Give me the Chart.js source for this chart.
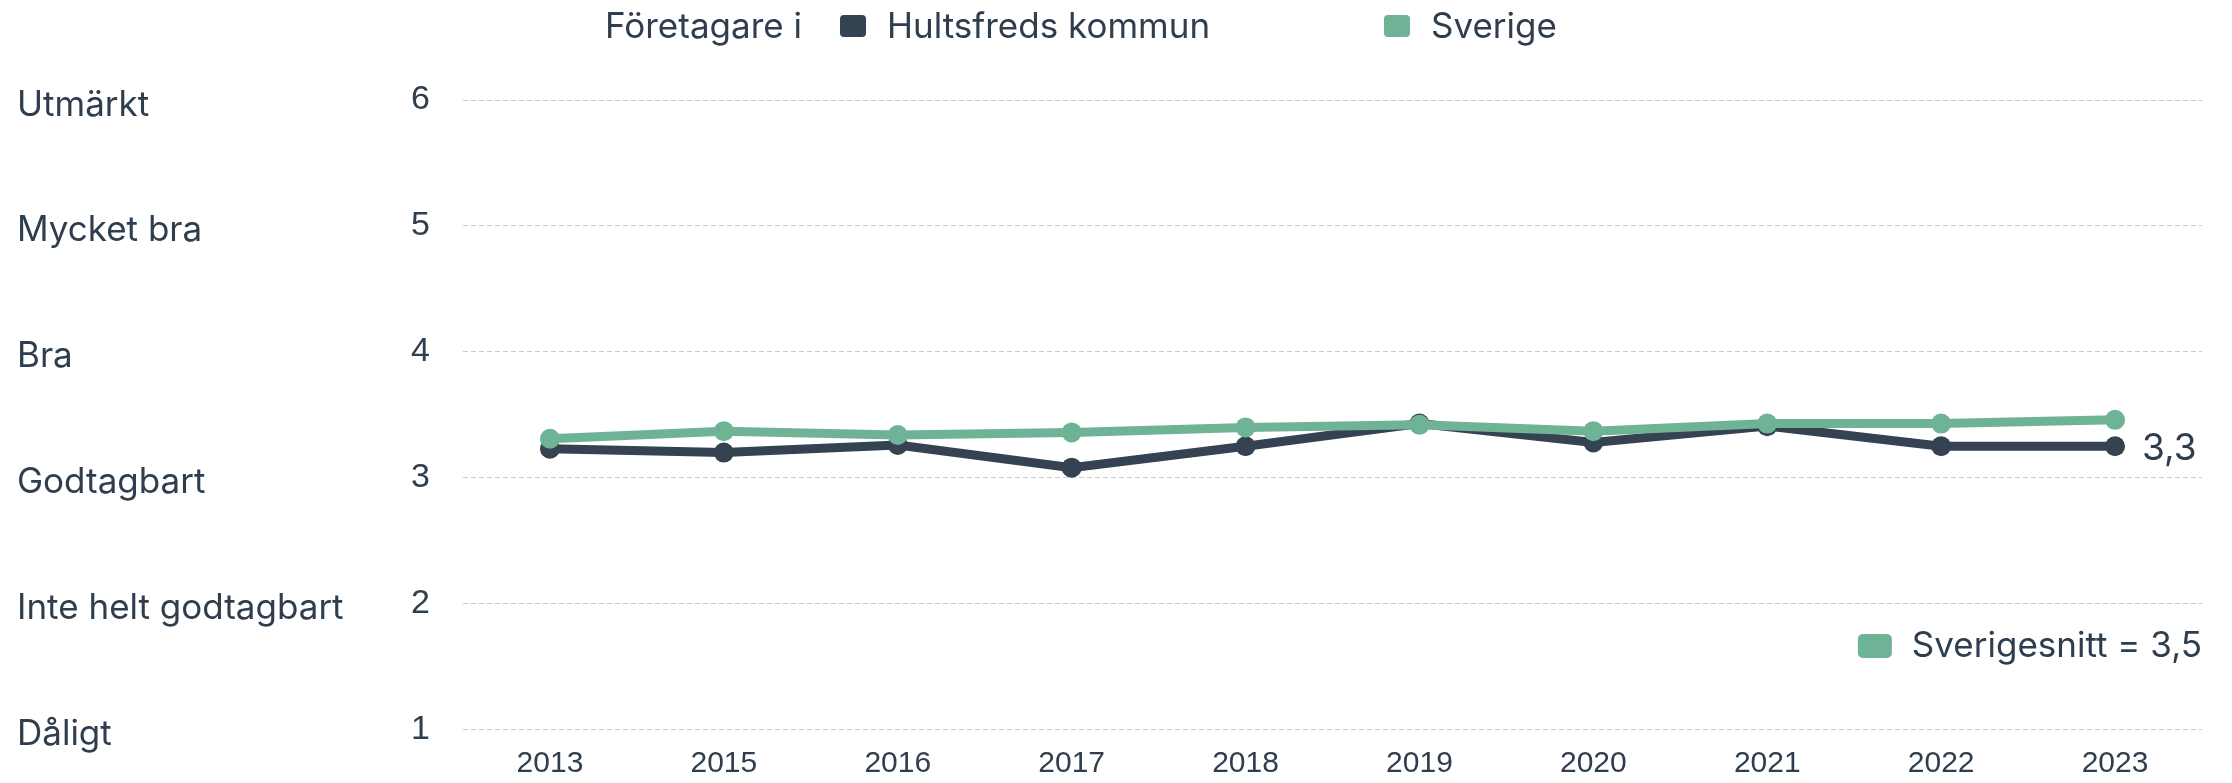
<!DOCTYPE html>
<html lang="sv">
<head>
<meta charset="utf-8">
<title>Företagare i Hultsfreds kommun</title>
<script src="https://cdn.jsdelivr.net/npm/chart.js@4.4.1/dist/chart.umd.min.js"></script>
<style>
    html, body { margin: 0; padding: 0; background: #fff; }
    #wrap { width: 2232px; height: 783px; }
</style>
</head>
<body>
<div id="wrap"><canvas id="ratingChart" width="2232" height="783"></canvas></div>
<script>
// Data
const years = ['2013', '2015', '2016', '2017', '2018', '2019', '2020', '2021', '2022', '2023'];
const kommunValues = [3.23, 3.20, 3.26, 3.08, 3.25, 3.43, 3.28, 3.41, 3.25, 3.25];
const sverigeValues = [3.31, 3.37, 3.34, 3.36, 3.40, 3.42, 3.37, 3.43, 3.43, 3.46];
const scaleTicks = [1, 2, 3, 4, 5, 6];
const scaleNames = ['Dåligt', 'Inte helt godtagbart', 'Godtagbart', 'Bra', 'Mycket bra', 'Utmärkt'];
const legendPrefix = 'Företagare i';
const kommunName = 'Hultsfreds kommun';
const sverigeName = 'Sverige';
const averageLabel = 'Sverigesnitt';

const DARK = '#344251';
const GREEN = '#6fb397';
const TEXT = '#2f3e4f';

function fmt(v) {
    return v.toFixed(1).replace('.', ',');
}

function box(ctx, x, y, w, h, r, color) {
    ctx.fillStyle = color;
    ctx.beginPath();
    if (ctx.roundRect) ctx.roundRect(x, y, w, h, r);
    else ctx.rect(x, y, w, h);
    ctx.fill();
}

// Top legend, bottom "Sverigesnitt" note and the end value label
const overlayPlugin = {
    id: 'overlay',
    afterDatasetsDraw(chart) {
        const ctx = chart.ctx;
        ctx.save();
        ctx.textBaseline = 'middle';
        ctx.textAlign = 'left';

        // legend row
        ctx.font = '35px Inter';
        ctx.fillStyle = TEXT;
        ctx.fillText(legendPrefix, 605, 27);
        box(ctx, 840, 15, 26, 22, 4, DARK);
        ctx.fillStyle = TEXT;
        ctx.fillText(kommunName, 887, 27);
        box(ctx, 1384, 15, 26, 22, 4, GREEN);
        ctx.fillStyle = TEXT;
        ctx.fillText(sverigeName, 1431, 27);

        // value label after the last kommun point
        const meta = chart.getDatasetMeta(0);
        const last = meta.data[meta.data.length - 1];
        ctx.font = '37px Inter';
        ctx.fillStyle = TEXT;
        ctx.fillText(fmt(kommunValues[kommunValues.length - 1]), last.x + 27, last.y + 3);

        // Sverigesnitt note
        const note = averageLabel + ' = ' + fmt(sverigeValues[sverigeValues.length - 1]);
        ctx.font = '35px Inter';
        ctx.textAlign = 'right';
        ctx.fillStyle = TEXT;
        ctx.fillText(note, chart.chartArea.right, 646);
        const w = ctx.measureText(note).width;
        box(ctx, chart.chartArea.right - w - 54, 634, 34, 24, 5, GREEN);
        ctx.restore();
    }
};

const ctx = document.getElementById('ratingChart').getContext('2d');

new Chart(ctx, {
    type: 'line',
    data: {
        labels: years,
        datasets: [
            {
                label: kommunName,
                data: kommunValues,
                borderColor: DARK,
                backgroundColor: DARK,
                pointBackgroundColor: DARK,
                borderWidth: 9,
                pointRadius: 10,
                pointBorderWidth: 0,
                tension: 0,
                order: 1
            },
            {
                label: sverigeName,
                data: sverigeValues,
                borderColor: GREEN,
                backgroundColor: GREEN,
                pointBackgroundColor: GREEN,
                borderWidth: 9,
                pointRadius: 10,
                pointBorderWidth: 0,
                tension: 0,
                order: 0
            }
        ]
    },
    options: {
        responsive: false,
        animation: false,
        layout: { padding: { top: 100, left: 17, right: 30, bottom: 0 } },
        scales: {
            x: {
                offset: true,
                grid: { display: false, drawTicks: false },
                border: { display: false },
                ticks: {
                    color: TEXT,
                    padding: 16,
                    maxRotation: 0,
                    font: { family: 'Liberation Sans', size: 30 }
                },
                afterFit: s => { s.height = 51; }
            },
            y: {
                position: 'left',
                weight: 0,
                min: 1,
                max: 6,
                ticks: {
                    stepSize: 1,
                    color: TEXT,
                    padding: 33,
                    font: { family: 'Liberation Sans', size: 34 }
                },
                grid: { color: '#cccccc', lineWidth: 1, drawTicks: false },
                border: { display: false, dash: [5, 3] },
                afterFit: s => { s.width = 80; }
            },
            names: {
                position: 'left',
                weight: 1,
                min: 1,
                max: 6,
                grid: { display: false, drawTicks: false },
                border: { display: false },
                ticks: {
                    stepSize: 1,
                    crossAlign: 'far',
                    color: TEXT,
                    labelOffset: 5,
                    font: { family: 'Inter', size: 35 },
                    callback: v => scaleNames[scaleTicks.indexOf(v)]
                },
                afterFit: s => { s.width = 366; }
            }
        },
        plugins: {
            legend: { display: false },
            tooltip: { enabled: false },
            title: { display: false }
        }
    },
    plugins: [overlayPlugin]
});
</script>
</body>
</html>
